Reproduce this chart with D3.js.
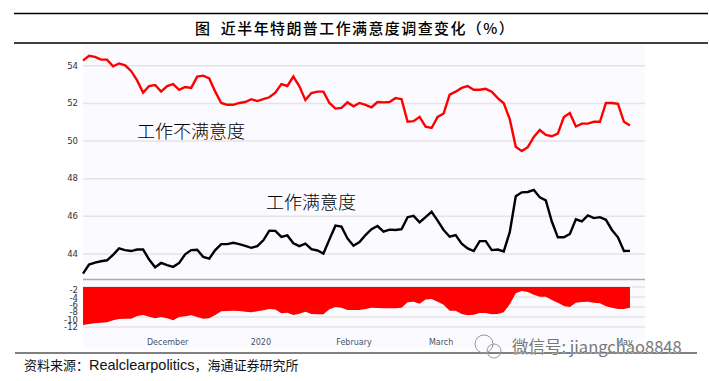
<!DOCTYPE html>
<html>
<head>
<meta charset="utf-8">
<script src="https://cdn.jsdelivr.net/npm/d3@7"></script>
<style>
  html, body { margin: 0; padding: 0; background: #fff; }
  svg { display: block; }
  .axis text { font-family: "DejaVu Sans", sans-serif; font-size: 8.5px; fill: #333; }
  .axis .domain { display: none; }
</style>
</head>
<body>
<svg width="709" height="381"></svg>
<script>
// readings, one every 2 days starting from first_day
let first_day = new Date(2019, 10, 3);

let disapprove = [
    54.25, 54.5, 54.45, 54.3, 54.3, 53.95, 54.1, 54.0, 53.7, 53.2, 52.55, 52.9, 52.95, 52.6, 52.9, 53.0,
    52.7, 52.85, 52.8, 53.4, 53.45, 53.3, 52.6, 52.0, 51.9, 51.9, 52.0, 52.05, 52.2, 52.1, 52.2, 52.3, 52.55,
    53.0, 52.9, 53.4, 52.88, 52.15, 52.53, 52.6, 52.6, 52.0, 51.7, 51.74, 52.03, 51.82, 52.0, 51.9, 51.77,
    52.05, 52.03, 52.05, 52.26, 52.2, 51.0, 51.03, 51.26, 50.74, 50.67, 51.26, 51.44, 52.44, 52.6, 52.8,
    52.9, 52.7, 52.7, 52.75,
    52.6, 52.26, 51.98, 51.14, 49.67, 49.44, 49.65, 50.19, 50.56, 50.3, 50.23, 50.37, 51.25, 51.46, 50.75,
    50.9, 50.9, 51.0, 51.0, 52.0, 52.0, 51.95, 51.0, 50.8
];

let approve = [
    42.93, 43.41, 43.52, 43.59, 43.64, 43.93, 44.27, 44.18, 44.13, 44.21, 44.21, 43.68, 43.27, 43.5, 43.38,
    43.29, 43.5, 43.96, 44.18, 44.2, 43.82, 43.73, 44.18, 44.5, 44.5, 44.57, 44.5, 44.41, 44.3, 44.39, 44.7,
    45.21, 45.2,
    44.88, 44.96, 44.54, 44.39, 44.52, 44.23, 44.16, 44.0, 44.75, 45.48, 45.43, 44.8, 44.41, 44.61, 44.98,
    45.29, 45.46, 45.16, 45.27, 45.25, 45.29, 45.93, 46.0, 45.66, 45.93, 46.21, 45.75, 45.25, 44.89, 44.98,
    44.52, 44.27, 44.13, 44.66, 44.66,
    44.18, 44.21, 44.11, 45.13, 47.04, 47.25, 47.27, 47.38, 46.98, 46.82, 45.7, 44.86, 44.86, 45.04, 45.82,
    45.71, 46.02, 45.88, 45.93, 45.79, 45.25, 44.86, 44.13, 44.14
];

let spread = [
    -11.46, -11.19, -11.0, -10.83, -10.74, -10.2, -9.84, -9.75, -9.75, -9.03, -8.76, -9.2, -9.66, -9.3, -9.66,
    -10.2, -9.3, -9.12, -8.85, -9.3, -9.75, -9.66, -8.76, -7.77, -7.68, -7.6, -7.68, -7.86, -8.04, -7.77, -7.5,
    -7.14, -7.3,
    -8.3, -8.13, -8.76, -8.4, -7.86, -8.5, -8.58, -8.58, -7.2, -6.6, -6.77, -7.4, -7.4, -7.4, -7.13, -6.77,
    -6.86, -6.95, -6.95, -6.95, -6.77, -5.33, -5.15, -5.7, -4.6, -4.43, -5.15, -5.96, -7.6, -7.6, -8.5, -8.85,
    -8.67, -8.2, -8.2,
    -8.58, -8.49, -8.04, -5.87, -2.9, -2.27, -2.54, -3.26, -3.8, -3.8, -4.7, -5.42, -6.32, -6.6, -5.42, -5.24,
    -5.15, -5.42, -5.6, -6.41, -6.77, -7.13, -7.13, -6.77
];

let upper_ticks = [44, 46, 48, 50, 52, 54];
let lower_ticks = [-2, -4, -6, -8, -10, -12];
let lower_grid = [-1.2, -3.9, -6.6, -9.3, -12];
let lower_top = -1.2;
let month_dates = [new Date(2019, 11, 1), new Date(2020, 0, 1), new Date(2020, 1, 1), new Date(2020, 2, 1), new Date(2020, 4, 1)];
let month_labels = ["December", "2020", "February", "March", "May"];

let title = "图  近半年特朗普工作满意度调查变化（%）";
let source_cn = "资料来源：";
let source_en = "Realclearpolitics";
let source_tail = "，海通证券研究所";
let disapprove_label = "工作不满意度";
let approve_label = "工作满意度";
let watermark = "微信号: jiangchao8848";

let cjk = '"Noto Sans CJK SC", sans-serif';
let svg = d3.select("svg");
let dates = disapprove.map((d, i) => d3.timeDay.offset(first_day, i * 2));

let x = d3.scaleTime()
    .domain([first_day, new Date(2020, 4, 8)])
    .range([83, 645]);
let y = d3.scaleLinear().domain([44, 54]).range([253.5, 65.3]);
let y_lower = d3.scaleLinear().domain([-2, -12]).range([290, 327]);

// rules and plot background
svg.append("rect")
    .attr("x", 83).attr("y", 45)
    .attr("width", 562).attr("height", 303)
    .attr("fill", "#fbfbff");

function rule(x1, x2, yy, colour, w) {
    svg.append("line")
        .attr("x1", x1).attr("x2", x2)
        .attr("y1", yy).attr("y2", yy)
        .attr("stroke", colour)
        .attr("stroke-width", w);
}
rule(14, 708, 13.5, "#000", 1.5);
rule(14, 708, 43, "#000", 1.5);
rule(15, 697, 353, "#000", 1.2);

// upper panel axis, ticks stretched to gridlines
let y_axis = d3.axisLeft(y)
    .tickValues(upper_ticks)
    .tickSize(-562)
    .tickPadding(5);
svg.append("g")
    .attr("class", "axis")
    .attr("transform", "translate(83,0)")
    .call(y_axis)
    .call(g => g.selectAll("line").attr("stroke", "#e4e4e6").attr("stroke-width", 1.5));

rule(83, 645, 279.5, "#aaaaaa", 1.5);

// lower panel
svg.append("g")
    .selectAll("line")
    .data(lower_grid).enter()
    .append("line")
    .attr("x1", 83).attr("x2", 645)
    .attr("y1", d => y_lower(d)).attr("y2", d => y_lower(d))
    .attr("stroke", "#e4e4e6")
    .attr("stroke-width", 1.5);

let lower_axis = d3.axisLeft(y_lower)
    .tickValues(lower_ticks)
    .tickSize(0)
    .tickFormat(d => d)
    .tickPadding(5);
svg.append("g")
    .attr("class", "axis")
    .attr("transform", "translate(83,0)")
    .call(lower_axis);

let area = d3.area()
    .x((d, i) => x(dates[i]))
    .y0(y_lower(lower_top))
    .y1(d => y_lower(d));
svg.append("path")
    .attr("d", area(spread))
    .attr("fill", "#ff0000");

let x_axis = d3.axisBottom(x)
    .tickValues(month_dates)
    .tickSize(0)
    .tickFormat((d, i) => month_labels[i])
    .tickPadding(0);
svg.append("g")
    .attr("class", "axis")
    .attr("transform", "translate(0,339)")
    .call(x_axis)
    .call(g => g.selectAll("text").style("fill", "#445566").style("font-size", "8px"));

// the two series
let line = d3.line()
    .x((d, i) => x(dates[i]))
    .y(d => y(d));
svg.append("path")
    .attr("d", line(disapprove))
    .attr("fill", "none")
    .attr("stroke", "#ff0000")
    .attr("stroke-width", 2.4);
svg.append("path")
    .attr("d", line(approve))
    .attr("fill", "none")
    .attr("stroke", "#000")
    .attr("stroke-width", 2.4);

// texts
svg.append("text")
    .attr("x", 355).attr("y", 34)
    .attr("text-anchor", "middle")
    .attr("font-family", cjk)
    .attr("font-size", 15)
    .attr("font-weight", 500)
    .attr("letter-spacing", 1.4)
    .style("white-space", "pre")
    .text(title);

svg.append("text")
    .attr("x", 137).attr("y", 138)
    .attr("font-family", cjk)
    .attr("font-size", 18)
    .attr("font-weight", 300)
    .text(disapprove_label);
svg.append("text")
    .attr("x", 266).attr("y", 209)
    .attr("font-family", cjk)
    .attr("font-size", 18)
    .attr("font-weight", 300)
    .text(approve_label);

let source = svg.append("text")
    .attr("x", 24).attr("y", 370)
    .attr("font-size", 13)
    .attr("fill", "#111");
source.append("tspan").attr("font-family", cjk).text(source_cn);
source.append("tspan").attr("font-family", '"Liberation Sans", sans-serif').attr("font-size", 14.5).text(source_en);
source.append("tspan").attr("font-family", cjk).text(source_tail);

// watermark
let logo = svg.append("g").attr("fill", "none").attr("stroke", "#999").attr("stroke-width", 1);
logo.append("circle").attr("cx", 484).attr("cy", 344).attr("r", 9);
logo.append("circle").attr("cx", 494).attr("cy", 351).attr("r", 7);
svg.append("text")
    .attr("x", 512).attr("y", 353)
    .attr("font-family", cjk)
    .attr("font-size", 16.5)
    .attr("fill", "#777")
    .attr("stroke", "#fff")
    .attr("stroke-width", 0.6)
    .attr("paint-order", "stroke")
    .text(watermark);
</script>
</body>
</html>
